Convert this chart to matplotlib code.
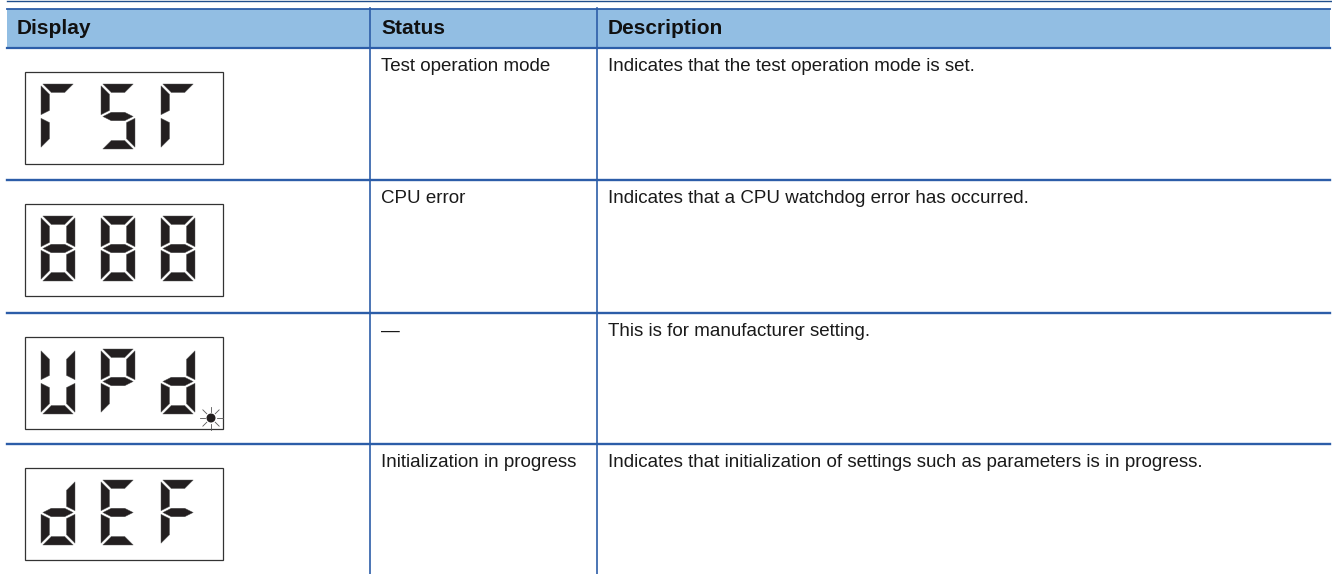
import numpy as np
from matplotlib import pyplot as plt
from matplotlib.patches import Polygon, Rectangle, Circle

headers = ["Display", "Status", "Description"]
displays = ["rSr", "888", "UPd", "dEF"]
blink = [False, False, True, False]
statuses = ["Test operation mode", "CPU error", "\u2014", "Initialization in progress"]
descriptions = ["Indicates that the test operation mode is set.",
                "Indicates that a CPU watchdog error has occurred.",
                "This is for manufacturer setting.",
                "Indicates that initialization of settings such as parameters is in progress."]

# which segments are lit for each character
glyphs = {"r": "afe", "S": "afgcd", "8": "abcdefg", "U": "bcdef",
          "P": "abfge", "d": "bcdeg", "E": "afged", "F": "afge"}

plt.rcParams['font.family'] = ['Liberation Sans', 'DejaVu Sans']
line_c = '#2C5DA8'
head_c = '#92BEE3'
seg_c = '#231F20'

fig = plt.figure(figsize=(13.32, 5.74), dpi=100)
ax = fig.add_axes([0, 0, 1, 1])
ax.set_xlim(0, 1332)
ax.set_ylim(574, 0)
ax.axis('off')

left, right = 7, 1330
col_x = [7, 370, 597]
row_top = [48, 180, 313, 444]
bottom = 574

# header band
ax.plot([7, 1332], [1.2, 1.2], color='#1F4E8C', lw=1.0)
ax.add_patch(Rectangle((left, 8.5), right - left, 39, facecolor=head_c, edgecolor='none'))
ax.plot([left, right], [8.6, 8.6], color=line_c, lw=1.3)
ax.plot([left, right], [47.5, 47.5], color=line_c, lw=1.6)
for x in col_x[1:]:
    ax.plot([x, x], [8, bottom], color=line_c, lw=1.2)
for y in row_top[1:]:
    ax.plot([left, right], [y, y], color=line_c, lw=1.7)

hx = [17, 381, 608]
for x, h in zip(hx, headers):
    ax.text(x, 34, h, fontsize=15, fontweight='bold', color='#111111', va='baseline')


def segment(name, W=34, H=65, t=8.5, g=1.8):
    m = H / 2
    shapes = {
        'a': [(g, 0), (W - g, 0), (W - g - t, t), (g + t, t)],
        'd': [(g + t, H - t), (W - g - t, H - t), (W - g, H), (g, H)],
        'f': [(0, g), (t, g + t), (t, m - t / 2 - g), (0, m - g)],
        'e': [(0, m + g), (t, m + t / 2 + g), (t, H - t - g), (0, H - g)],
        'b': [(W, g), (W, m - g), (W - t, m - t / 2 - g), (W - t, g + t)],
        'c': [(W, m + g), (W, H - g), (W - t, H - t - g), (W - t, m + t / 2 + g)],
        'g': [(g, m), (g + t, m - t / 2), (W - g - t, m - t / 2), (W - g, m),
              (W - g - t, m + t / 2), (g + t, m + t / 2)],
    }
    return np.array(shapes[name])


for i, top in enumerate(row_top):
    bx, by = 25, top + 24
    ax.add_patch(Rectangle((bx, by), 198, 92, facecolor='white', edgecolor='#333333', lw=0.9))
    for k, ch in enumerate(displays[i]):
        ox, oy = bx + 16 + 60 * k, by + 12
        for s in glyphs[ch]:
            pts = segment(s) + [ox, oy]
            ax.add_patch(Polygon(pts, closed=True, facecolor=seg_c, edgecolor='#555555', lw=0.3))
    if blink[i]:
        cx, cy = bx + 186, by + 81
        ax.add_patch(Circle((cx, cy), 3.8, color=seg_c))
        for a in np.arange(0, 360, 45):
            r = np.radians(a)
            ax.plot([cx + 6 * np.cos(r), cx + 11.5 * np.cos(r)],
                    [cy + 6 * np.sin(r), cy + 11.5 * np.sin(r)], color='#555555', lw=0.6)
    ax.text(381, top + 23, statuses[i], fontsize=13.5, color='#1a1a1a', va='baseline')
    ax.text(608, top + 23, descriptions[i], fontsize=13.5, color='#1a1a1a', va='baseline')

fig.savefig('out.png', dpi=100)
